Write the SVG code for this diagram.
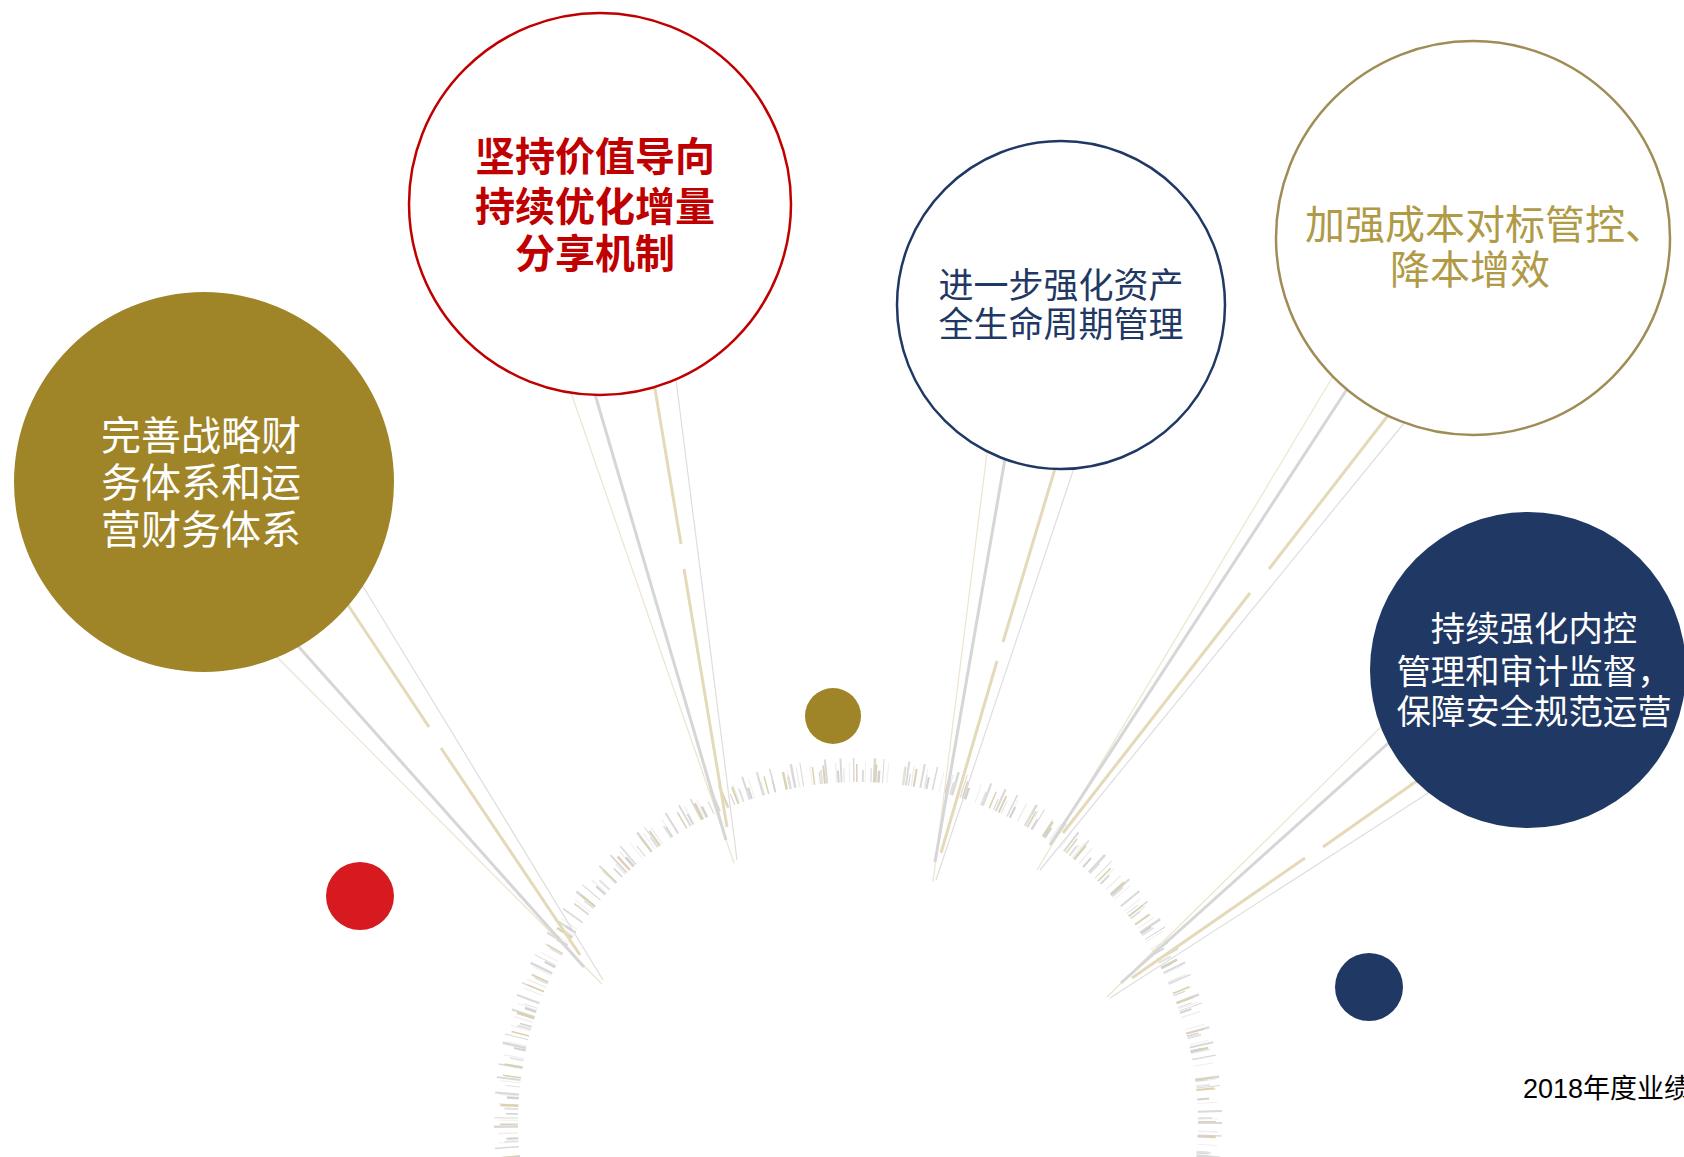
<svg xmlns="http://www.w3.org/2000/svg" width="1684" height="1157" viewBox="0 0 1684 1157">
<style>
.cjk{font-family:"Noto Sans CJK SC","Noto Sans",sans-serif;text-anchor:middle}
.tk{fill:none}
.rg{stroke:#D6D6D6;stroke-width:3;stroke-linecap:butt}
.rb{stroke:#E4DAB9;stroke-width:3;stroke-linecap:butt}
.tb{stroke:#EDE4CC;stroke-width:1.2}
.tg{stroke:#DEDEDE;stroke-width:1.2}
</style>
<rect width="1684" height="1157" fill="#FFFFFF"/>
<g id="tick-arc">
<circle class="tk" cx="858" cy="1122" r="350" stroke="#EFEFEF" stroke-width="20" stroke-dasharray="1 8 1.5 12 1 15"/>
<circle class="tk" cx="858" cy="1122" r="352" stroke="#D9D9D9" stroke-width="24" stroke-dasharray="2 11 1.5 19 2.5 7 1 23 2 13"/>
<circle class="tk" cx="858" cy="1122" r="349" stroke="#DCD1B1" stroke-width="18" stroke-dasharray="1.5 17 2.5 27 1.5 9 2 31" stroke-dashoffset="5"/>
<circle class="tk" cx="858" cy="1122" r="346" stroke="#D2D2D2" stroke-width="12" stroke-dasharray="2 23 1.5 14 2.5 29 1 17" stroke-dashoffset="11"/>
<circle class="tk" cx="858" cy="1122" r="347" stroke="#E2E2E2" stroke-width="14" stroke-dasharray="1.5 31 2 21 1 26" stroke-dashoffset="3"/>
</g>
<g id="connectors">
<line class="tb" x1="268" y1="648" x2="602" y2="984"/>
<line class="rg" x1="290" y1="637" x2="584" y2="967"/>
<line class="rb" x1="342" y1="596" x2="429" y2="727"/>
<line class="rb" x1="441" y1="748" x2="580" y2="955"/>
<line class="tg" x1="356" y1="575" x2="603" y2="980"/>
<line class="tb" x1="568" y1="384" x2="734" y2="863"/>
<line class="rg" x1="592" y1="384" x2="726" y2="840"/>
<line class="rb" x1="653" y1="377" x2="681" y2="544"/>
<line class="rb" x1="684" y1="569" x2="727" y2="827"/>
<line class="tg" x1="675" y1="372" x2="737" y2="860"/>
<line class="tb" x1="988" y1="445" x2="933" y2="882"/>
<line class="rg" x1="1006" y1="453" x2="935" y2="862"/>
<line class="rb" x1="1057" y1="462" x2="1003" y2="642"/>
<line class="rb" x1="997" y1="661" x2="941" y2="853"/>
<line class="tg" x1="1076" y1="462" x2="936" y2="880"/>
<line class="tb" x1="1338" y1="368" x2="1037" y2="870"/>
<line class="rg" x1="1351" y1="383" x2="1050" y2="845"/>
<line class="rb" x1="1393" y1="409" x2="1269" y2="569"/>
<line class="rb" x1="1250" y1="593" x2="1063" y2="833"/>
<line class="tg" x1="1409" y1="417" x2="1040" y2="870"/>
<line class="tb" x1="1386" y1="722" x2="1107" y2="997"/>
<line class="rg" x1="1394" y1="738" x2="1121" y2="983"/>
<line class="rb" x1="1421" y1="778" x2="1323" y2="847"/>
<line class="rb" x1="1305" y1="858" x2="1132" y2="978"/>
<line class="tg" x1="1436" y1="788" x2="1110" y2="998"/>
</g>
<g id="node-gold">
<circle cx="204" cy="482" r="190" fill="#9F8428"/>
<text class="cjk" x="201" y="450" font-size="40" fill="#FFFFFF">完善战略财</text>
<text class="cjk" x="201" y="497" font-size="40" fill="#FFFFFF">务体系和运</text>
<text class="cjk" x="201" y="544" font-size="40" fill="#FFFFFF">营财务体系</text>
</g>
<g id="node-red">
<circle cx="600" cy="204" r="191" fill="#FFFFFF" stroke="#C00000" stroke-width="2.5"/>
<text class="cjk" x="595" y="171" font-size="40" font-weight="bold" fill="#C00000">坚持价值导向</text>
<text class="cjk" x="595" y="221" font-size="40" font-weight="bold" fill="#C00000">持续优化增量</text>
<text class="cjk" x="595" y="268" font-size="40" font-weight="bold" fill="#C00000">分享机制</text>
</g>
<g id="node-navy-outline">
<circle cx="1061" cy="305" r="164" fill="#FFFFFF" stroke="#1F3864" stroke-width="2.5"/>
<text class="cjk" x="1061" y="298" font-size="35" fill="#1F3864">进一步强化资产</text>
<text class="cjk" x="1061" y="337" font-size="35" fill="#1F3864">全生命周期管理</text>
</g>
<g id="node-beige">
<circle cx="1473" cy="238" r="197" fill="#FFFFFF" stroke="#A08C57" stroke-width="2.5"/>
<text class="cjk" x="1485" y="239" font-size="40" fill="#B09A46">加强成本对标管控、</text>
<text class="cjk" x="1470" y="284" font-size="40" fill="#B09A46">降本增效</text>
</g>
<g id="node-navy-filled">
<circle cx="1528" cy="670" r="158" fill="#203864"/>
<text class="cjk" x="1534" y="641" font-size="34.4" fill="#FFFFFF">持续强化内控</text>
<text class="cjk" x="1534" y="684" font-size="34.4" fill="#FFFFFF">管理和审计监督，</text>
<text class="cjk" x="1534" y="724" font-size="34.4" fill="#FFFFFF">保障安全规范运营</text>
</g>
<g id="dot-gold"><circle cx="833" cy="716" r="28" fill="#9F8428"/></g>
<g id="dot-red"><circle cx="360" cy="896" r="34" fill="#D71920"/></g>
<g id="dot-navy"><circle cx="1369" cy="987" r="34" fill="#203864"/></g>
<g id="footer">
<text x="1523" y="1098" font-size="27" fill="#000000" font-family="'Liberation Sans','Noto Sans CJK SC',sans-serif">2018年度业绩</text>
</g>
</svg>
